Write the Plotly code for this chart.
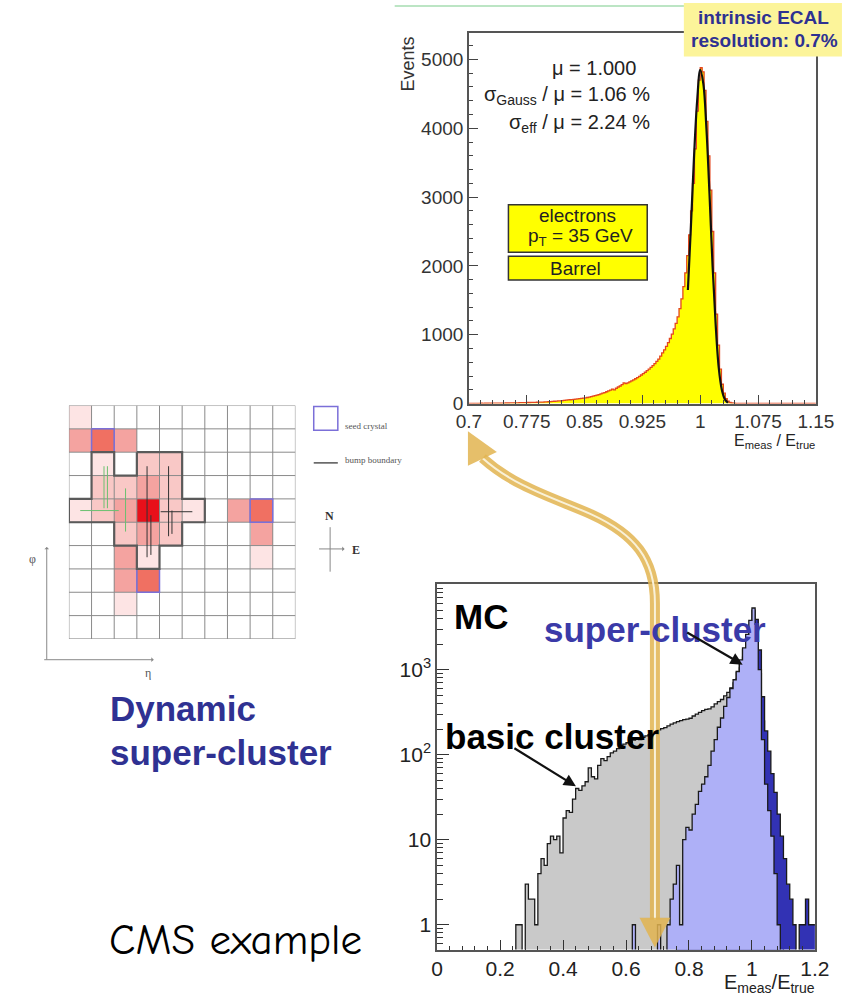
import numpy as np
import plotly.graph_objects as go

W, H = 858, 1006

# ---------------- data: top histogram (E_meas/E_true, electrons pT=35 GeV, Barrel) ----------------
top_lo = 0.7
top_bin = 0.0025
top_counts = (
    [2, 2, 3, 2, 3, 3, 4, 3, 4, 4, 5, 4, 5, 5, 6, 6, 7, 6, 7, 8,
     8, 9, 9, 10, 10, 11, 12, 12, 13, 14, 15, 15, 16, 17, 18, 19, 20, 21, 22, 24]
    + [25, 27, 29, 31, 33, 35, 38, 40, 43, 46, 49, 52, 55, 58, 61, 64, 67, 70, 74, 78]
    + [82, 88, 94, 100, 107, 115, 123, 131, 140, 150, 160, 171, 183, 196, 210, 200, 222, 240, 255, 275]
    + [300, 290, 300, 315, 330, 345, 360, 378, 396, 415, 435, 455, 478, 500, 525, 552, 580, 612, 645, 690]
    + [735, 780, 830, 885, 945, 1010, 1085, 1165, 1260, 1380]
    + [1520, 1700, 1900, 2150, 2450, 2800, 3200, 3700, 4250, 4700]
    + [4880, 4820, 4550, 4100, 3600, 3100, 2500, 1900, 1300, 850]
    + [500, 280, 150, 70, 35, 15, 8, 5, 3, 2]
    + [2, 1, 2, 1, 1, 2, 1, 1, 1, 2, 1, 1, 1, 1, 2, 1, 1, 1, 1, 1,
       1, 1, 1, 1, 1, 1, 1, 1, 1, 1, 1, 1, 1, 1, 1, 1, 1, 1, 1, 1]
)
fit_x = [0.984, 0.988, 0.992, 0.996, 1.000, 1.004, 1.008, 1.012, 1.016, 1.020, 1.024, 1.028, 1.032, 1.036]
fit_y = [1650, 2600, 3600, 4400, 4850, 4650, 4000, 3050, 2000, 1150, 520, 200, 60, 10]
top_tick_vals = [0.7, 0.775, 0.85, 0.925, 1.0, 1.075, 1.15]
top_tick_text = ["0.7", "0.775", "0.85", "0.925", "1", "1.075", "1.15"]

# ---------------- data: bottom histograms (log scale) ----------------
bot_lo = 0.0
bot_bin = 0.01
basic_cluster = (
    [0] * 25
    + [1, 1, 0, 3, 2, 2, 1, 4, 6, 5]
    + [9, 11, 10, 11, 7, 18, 22, 21, 30, 40]
    + [38, 43, 48, 70, 55, 52, 75, 90, 85, 95]
    + [105, 110, 118, 125, 133, 138, 140, 148, 152, 150]
    + [160, 166, 172, 180, 192, 196, 202, 208, 218, 228]
    + [236, 245, 252, 258, 262, 268, 285, 300, 315, 330]
    + [340, 345, 365, 395, 420, 445, 490, 540, 610, 700]
    + [930, 1250, 1700, 2200, 2700, 2900, 2300, 900, 250, 60]
    + [20, 8, 4, 2, 1, 0, 0, 0, 0, 0]
    + [0, 0, 0, 0, 0]
)
super_cluster = (
    [0] * 62
    + [1] + [0] * 7
    + [1, 0, 0, 1, 2, 3, 5, 1, 10, 14]
    + [13, 20, 26, 37, 45, 55, 75, 110, 150, 210]
    + [270, 370, 470, 600, 760, 950, 1300, 1800, 2600, 3800]
    + [5300, 3400, 1000, 150, 45, 22, 11, 4, 1, 0]
    + [0] * 10
)
super_cluster_corr = (
    [0] * 76
    + [1, 1, 3, 5]
    + [7, 10, 14, 20, 28, 38, 50, 70, 100, 140]
    + [190, 260, 350, 460, 600, 780, 1050, 1400, 2000, 3000]
    + [5000, 3900, 1700, 480, 190, 110, 60, 36, 20, 11]
    + [6, 3, 2, 1, 0, 1, 1, 2, 1, 1]
)
bot_tick_vals = [0, 0.2, 0.4, 0.6, 0.8, 1.0, 1.2]
bot_tick_text = ["0", "0.2", "0.4", "0.6", "0.8", "1", "1.2"]

# ---------------- data: dynamic super-cluster crystal grid ----------------
grid_energy = [
    [1, 0, 0, 0, 0, 0, 0, 0, 0, 0],
    [3, 4, 3, 0, 0, 0, 0, 0, 0, 0],
    [0, 1, 0, 2, 2, 0, 0, 0, 0, 0],
    [0, 2, 2, 3, 2, 0, 0, 0, 0, 0],
    [1, 2, 3, 5, 2, 1, 0, 3, 4, 0],
    [0, 0, 2, 3, 2, 0, 0, 0, 3, 0],
    [0, 0, 3, 1, 0, 0, 0, 0, 1, 0],
    [0, 0, 3, 4, 0, 0, 0, 0, 0, 0],
    [0, 0, 1, 0, 0, 0, 0, 0, 0, 0],
    [0, 0, 0, 0, 0, 0, 0, 0, 0, 0],
]
seed_cells = [(1, 1), (4, 8), (7, 3)]  # (row, col)
bump_boundary = [(3, 2), (5, 2), (5, 4), (6, 4), (6, 5), (5, 5), (5, 6), (4, 6), (4, 7), (3, 7),
                 (3, 6), (2, 6), (2, 5), (0, 5), (0, 4), (1, 4), (1, 2), (2, 2), (2, 3), (3, 3), (3, 2)]
flow_black = [[(2.95, 6.0), (2.95, 2.1)], [(3.12, 4.2), (3.12, 5.9)], [(3.9, 5.1), (3.9, 2.1)],
              [(3.55, 4.05), (4.95, 4.05)], [(4.05, 4.0), (4.05, 5.0)]]
flow_green = [[(0.0, 4.0), (1.7, 4.0)], [(1.05, 3.9), (1.05, 2.1)], [(1.2, 2.1), (1.2, 3.9)],
              [(2.0, 3.05), (2.0, 4.9)]]


def px(x):
    return x / W


def py(y):
    return 1 - y / H


def step_xy(lo, width, vals, floor=None):
    v = np.array(vals, dtype=float)
    if floor is not None:
        v = np.where(v > 0, v, floor)
    xs = lo + width * np.arange(len(v) + 1)
    ys = np.append(v, v[-1])
    return xs, ys


fig = go.Figure()

# ---- top histogram ----
tx, ty = step_xy(top_lo, top_bin, top_counts)
fig.add_trace(go.Scatter(x=tx, y=ty, mode="lines", line=dict(shape="hv", color="#e4461e", width=1.3),
                         fill="tozeroy", fillcolor="#ffff00", xaxis="x", yaxis="y", hoverinfo="skip"))
fig.add_trace(go.Scatter(x=fit_x, y=fit_y, mode="lines", line=dict(shape="spline", color="#111", width=2.2),
                         xaxis="x", yaxis="y", hoverinfo="skip"))

# ---- bottom histograms ----
for vals, fcol in [(basic_cluster, "#c9c9c9"), (super_cluster_corr, "#3232b4"), (super_cluster, "#aeb0f7")]:
    bx, by = step_xy(bot_lo, bot_bin, vals, floor=0.01)
    fig.add_trace(go.Scatter(x=bx, y=by, mode="lines", line=dict(shape="hv", color="#1a1a1a", width=1.3),
                             fill="tozeroy", fillcolor=fcol, xaxis="x2", yaxis="y2", hoverinfo="skip"))

# ---- crystal grid ----
fig.add_trace(go.Heatmap(z=grid_energy, x=list(range(10)), y=list(range(10)), zmin=0, zmax=5,
                         colorscale=[[0, "#ffffff"], [0.2, "#fde4e4"], [0.4, "#f9c8c6"], [0.6, "#f4a3a0"],
                                     [0.8, "#f07062"], [1.0, "#e8101a"]],
                         showscale=False, xaxis="x3", yaxis="y3", hoverinfo="skip"))
gx, gy = [], []
for k in range(11):
    gx += [k - 0.5, k - 0.5, None, -0.5, 9.5, None]
    gy += [-0.5, 9.5, None, k - 0.5, k - 0.5, None]
fig.add_trace(go.Scatter(x=gx, y=gy, mode="lines", line=dict(color="#8a8a8a", width=1),
                         xaxis="x3", yaxis="y3", hoverinfo="skip"))
for seg_list, col in [(flow_green, "#6cc070"), (flow_black, "#333")]:
    sx, sy = [], []
    for seg in seg_list:
        sx += [p[0] for p in seg] + [None]
        sy += [p[1] for p in seg] + [None]
    fig.add_trace(go.Scatter(x=sx, y=sy, mode="lines", line=dict(color=col, width=1),
                             xaxis="x3", yaxis="y3", hoverinfo="skip"))
for (r, c) in seed_cells:
    fig.add_trace(go.Scatter(x=[c - 0.5, c + 0.5, c + 0.5, c - 0.5, c - 0.5],
                             y=[r - 0.5, r - 0.5, r + 0.5, r + 0.5, r - 0.5], mode="lines",
                             line=dict(color="#7b6fd8", width=1.5), xaxis="x3", yaxis="y3", hoverinfo="skip"))
fig.add_trace(go.Scatter(x=[p[0] - 0.5 for p in bump_boundary], y=[p[1] - 0.5 for p in bump_boundary],
                         mode="lines", line=dict(color="#5a5a5a", width=2.2), xaxis="x3", yaxis="y3",
                         hoverinfo="skip"))

tickfont_top = dict(family="Liberation Sans, Arial", size=19, color="#333")
tickfont_bot = dict(family="Liberation Sans, Arial", size=21, color="#222")

fig.update_layout(
    autosize=True, margin=dict(l=0, r=0, t=0, b=0, pad=0),
    paper_bgcolor="white", plot_bgcolor="white", showlegend=False,
    xaxis=dict(domain=[px(473), px(833)], range=[0.7, 1.15], anchor="y",
               tickmode="array", tickvals=top_tick_vals, ticktext=top_tick_text,
               ticks="inside", ticklen=9, tickcolor="#444", tickwidth=1.2,
               minor=dict(ticks="inside", ticklen=4, tickcolor="#444",
                          tickvals=list(np.round(np.arange(0.7, 1.151, 0.015), 4))),
               showline=True, linecolor="#555", linewidth=1.5, mirror=True,
               showgrid=False, zeroline=False, tickfont=tickfont_top),
    yaxis=dict(domain=[py(408), py(33)], range=[0, 5390], anchor="x",
               tickmode="array", tickvals=[0, 1000, 2000, 3000, 4000, 5000],
               ticks="inside", ticklen=9, tickcolor="#444", tickwidth=1.2,
               minor=dict(ticks="inside", ticklen=4, tickcolor="#444",
                          tickvals=list(range(0, 5400, 200))),
               showline=True, linecolor="#555", linewidth=1.5, mirror=True,
               showgrid=False, zeroline=False, tickfont=tickfont_top),
    xaxis2=dict(domain=[px(440), px(832)], range=[0, 1.2], anchor="y2",
                tickmode="array", tickvals=bot_tick_vals, ticktext=bot_tick_text,
                ticks="inside", ticklen=10, tickcolor="#333", tickwidth=1.2,
                minor=dict(ticks="inside", ticklen=4, tickcolor="#333",
                           tickvals=list(np.round(np.arange(0, 1.201, 0.04), 3))),
                showline=True, linecolor="#555", linewidth=1.5, mirror=True,
                showgrid=False, zeroline=False, tickfont=tickfont_bot),
    yaxis2=dict(domain=[py(960), py(590)], type="log", range=[-0.291, 4.012], anchor="x2",
                tickmode="array", tickvals=[1, 10, 100, 1000],
                ticktext=["1", "10", "10<sup>2</sup>", "10<sup>3</sup>"],
                ticks="inside", ticklen=12, tickcolor="#333", tickwidth=1.2,
                minor=dict(ticks="inside", ticklen=6, tickcolor="#333",
                           tickvals=[m * 10 ** e for e in range(-1, 4) for m in range(2, 10)]),
                showline=True, linecolor="#555", linewidth=1.5, mirror=True,
                showgrid=False, zeroline=False, tickfont=tickfont_bot),
    xaxis3=dict(domain=[px(58), px(293)], range=[-0.5, 9.5], anchor="y3", visible=False),
    yaxis3=dict(domain=[py(646), py(410)], range=[9.5, -0.5], anchor="x3", visible=False),
)

shapes = []
annots = []


def ann(text, X, Y, size, color="#222", family="Liberation Sans, Arial", xanchor="center", **kw):
    annots.append(dict(text=text, x=px(X), y=py(Y), xref="paper", yref="paper", showarrow=False,
                       xanchor=xanchor, yanchor="middle", font=dict(family=family, size=size, color=color), **kw))


def arrow(X, Y, tailX, tailY, color, width, head=2, size=1.0):
    annots.append(dict(text="", x=px(X), y=py(Y), xref="paper", yref="paper", showarrow=True,
                       ax=tailX - X, ay=tailY - Y, axref="pixel", ayref="pixel",
                       arrowhead=head, arrowsize=size, arrowwidth=width, arrowcolor=color))


def rect(x0, y0, x1, y1, fill="rgba(0,0,0,0)", line="rgba(0,0,0,0)", lw=0):
    shapes.append(dict(type="rect", xref="paper", yref="paper", x0=px(x0), x1=px(x1), y0=py(y1), y1=py(y0),
                       fillcolor=fill, line=dict(color=line, width=lw), layer="above"))


def line(x0, y0, x1, y1, color, width):
    shapes.append(dict(type="line", xref="paper", yref="paper", x0=px(x0), x1=px(x1), y0=py(y0), y1=py(y1),
                       line=dict(color=color, width=width), layer="above"))


def path(pts_str, color=None, width=0, fill="rgba(0,0,0,0)"):
    shapes.append(dict(type="path", xref="paper", yref="paper", path=pts_str,
                       line=dict(color=color or "rgba(0,0,0,0)", width=width), fillcolor=fill, layer="above"))


def P(x, y):
    return f"{px(x):.5f},{py(y):.5f}"


# top decorations
line(396, 6, 700, 6, "#a6dcb0", 1.5)
rect(696, 3, 860, 57, fill="#fcf49a")
ann("<b>intrinsic ECAL</b>", 779, 18, 19, color="#2e3192")
ann("<b>resolution: 0.7%</b>", 780, 41, 19, color="#2e3192")

ann("Events", 410, 65, 18, color="#333", textangle=-90)
ann("μ = 1.000", 648, 69, 20, xanchor="right")
ann("σ<sub>Gauss</sub> / μ = 1.06 %", 663, 97, 20, xanchor="right")
ann("σ<sub>eff</sub> / μ = 2.24 %", 663, 125, 20, xanchor="right")
rect(514, 207, 658, 255, fill="#ffff00", line="#333", lw=1.5)
rect(514, 259, 658, 283, fill="#ffff00", line="#333", lw=1.5)
ann("electrons", 586, 218, 19)
ann("p<sub>T</sub> = 35 GeV", 589, 240, 19)
ann("Barrel", 584, 271, 19)
ann("E<sub>meas</sub> / E<sub>true</sub>", 834, 446, 16, xanchor="right")

# grid legend / compass / axes
rect(312, 411, 337, 435, line="#7b6fd8", lw=1.5)
ann("seed crystal", 342, 431, 9, color="#555", family="Liberation Serif", xanchor="left")
line(312, 468, 337, 468, "#555", 1.5)
ann("bump boundary", 342, 465, 9, color="#555", family="Liberation Serif", xanchor="left")
ann("<b>N</b>", 328, 522, 12, color="#333", family="Liberation Serif")
line(329, 533, 329, 578, "#888", 1)
arrow(344, 555, 317, 555, "#888", 1, head=1, size=0.8)
ann("<b>E</b>", 350, 556, 12, color="#333", family="Liberation Serif", xanchor="left")
arrow(35, 553, 35, 667, "#888", 1, head=1, size=0.8)
arrow(146, 667, 35, 667, "#888", 1, head=1, size=0.8)
ann("φ", 20, 565, 12, color="#555", family="Liberation Serif")
ann("η", 140, 680, 12, color="#555", family="Liberation Serif")

# left texts
ann("<b>Dynamic</b>", 99, 716, 35, color="#2f3192", xanchor="left")
ann("<b>super-cluster</b>", 99, 761, 35, color="#2f3192", xanchor="left")
ann("CMS example", 98, 950, 43, color="#000", family="Comic Sans MS, Comic Neue, Lato", xanchor="left")

# bottom plot labels
ann("<b>MC</b>", 455, 623, 35, color="#000", xanchor="left")
ann("<b>super-cluster</b>", 549, 636, 35, color="#3a3aa8", xanchor="left")
ann("<b>basic cluster</b>", 446, 745, 35, color="#000", xanchor="left")
arrow(757, 672, 700, 639, "#111", 2.2, head=2, size=1.1)
arrow(584, 795, 521, 756, "#111", 2.2, head=2, size=1.1)
ann("E<sub>meas</sub>/E<sub>true</sub>", 834, 994, 20, xanchor="right")

# golden double arrow
gold = "rgba(226,180,80,0.85)"
shaft = f"M {P(487,463)} C {P(520,492)} {P(560,503)} {P(600,520)} C {P(645,540)} {P(666,565)} {P(666,610)} L {P(666,930)}"
path(shaft, color=gold, width=10)
path(shaft, color="rgba(250,243,222,0.95)", width=2)
path(f"M {P(472,436)} L {P(472,471)} L {P(502,457)} Z", fill=gold)
path(f"M {P(666,958)} L {P(650,928)} L {P(682,928)} Z", fill=gold)

fig.update_layout(shapes=shapes, annotations=annots)
fig.write_html(
    "out.html",
    default_width="100vw",
    default_height="100vh",
    config={"displayModeBar": False, "responsive": True},
    post_script=("var d=document.getElementById('{plot_id}');"
                 "d.style.position='fixed';d.style.left='0px';d.style.top='0px';"
                 "document.body.style.margin='0';document.body.style.overflow='hidden';"),
)
